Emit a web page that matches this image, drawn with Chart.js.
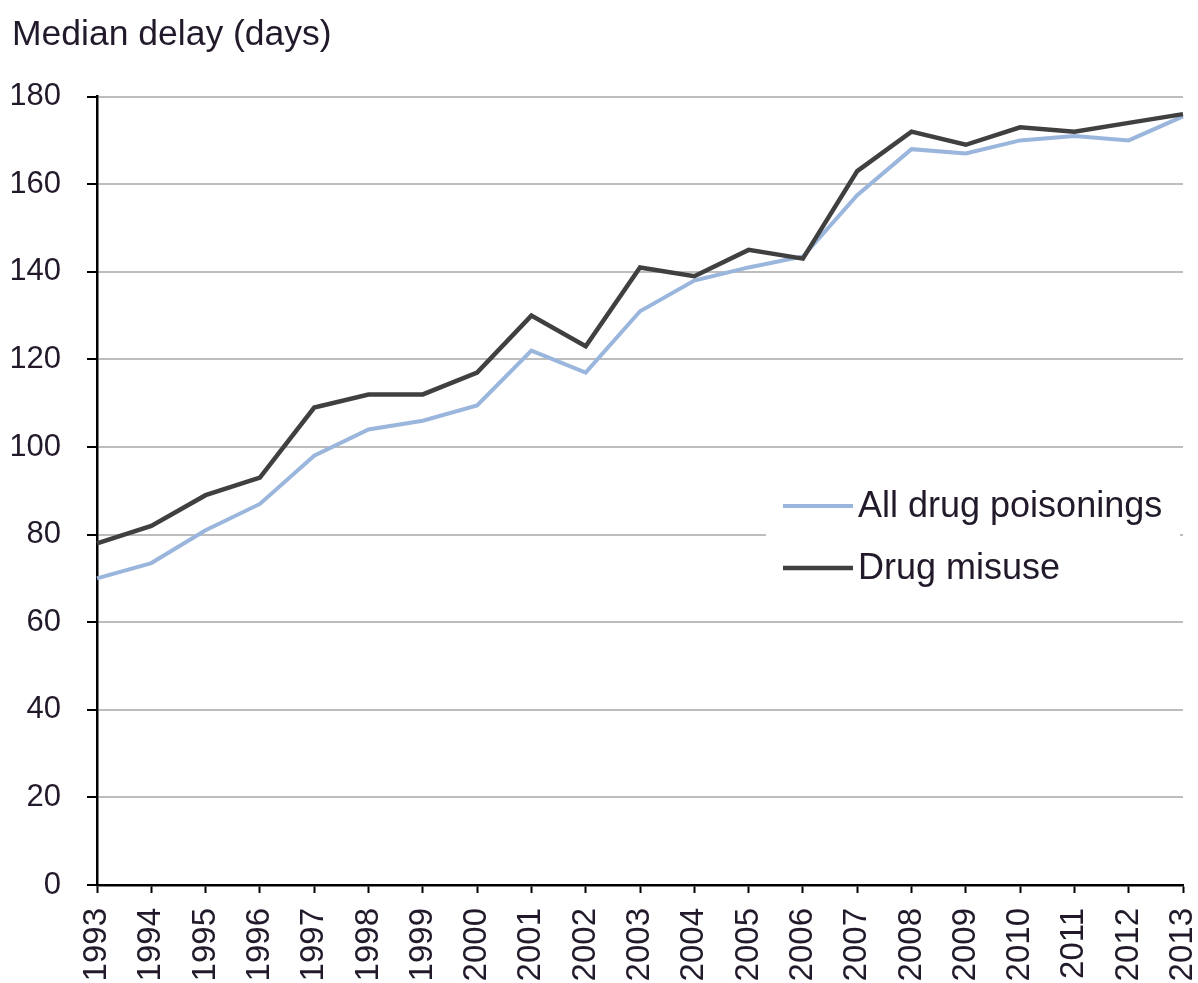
<!DOCTYPE html>
<html>
<head>
<meta charset="utf-8">
<script src="https://cdn.jsdelivr.net/npm/chart.js@4"></script>
<style>
  html, body { margin: 0; padding: 0; background: #fff; }
  #box { width: 1198px; height: 983px; }
</style>
</head>
<body>
<div id="box"><canvas id="grafico"></canvas></div>
<script>
// dati
const anni = ['1993', '1994', '1995', '1996', '1997', '1998', '1999', '2000', '2001', '2002',
              '2003', '2004', '2005', '2006', '2007', '2008', '2009', '2010', '2011', '2012', '2013'];
const tuttiAvvelenamenti = [70, 73.5, 81, 87, 98, 104, 106, 109.5, 122, 117,
                            131, 138, 141, 143.5, 157.5, 168, 167, 170, 171, 170, 175.5];
const abusoDroghe = [78, 82, 89, 93, 109, 112, 112, 117, 130, 123,
                     141, 139, 145, 143, 163, 172, 169, 173, 172, 174, 176];
const tickY = [0, 20, 40, 60, 80, 100, 120, 140, 160, 180];
const titoloAsse = 'Median delay (days)';

const coloreTesto = '#221a2a';
const font = "'Liberation Sans', Arial, sans-serif";

// legenda disegnata dentro l'area del grafico
const legendaInterna = {
    id: 'legendaInterna',
    afterDatasetsDraw(chart) {
        const ctx = chart.ctx;
        ctx.save();
        ctx.fillStyle = '#fff';
        ctx.fillRect(766, 478, 414, 118);
        const righe = [506, 568];
        chart.data.datasets.forEach((ds, i) => {
            const y = righe[i];
            ctx.strokeStyle = ds.borderColor;
            ctx.lineWidth = ds.borderWidth;
            ctx.beginPath();
            ctx.moveTo(783, y);
            ctx.lineTo(853, y);
            ctx.stroke();
            ctx.fillStyle = coloreTesto;
            ctx.font = '36px ' + font;
            ctx.textBaseline = 'middle';
            ctx.textAlign = 'left';
            ctx.fillText(ds.label, 858, y + 1);
        });
        ctx.restore();
    }
};

const ctx = document.getElementById('grafico').getContext('2d');
const grafico = new Chart(ctx, {
    type: 'line',
    data: {
        labels: anni,
        datasets: [{
            label: 'All drug poisonings',
            data: tuttiAvvelenamenti,
            borderColor: '#9bb6dc',
            borderWidth: 4,
            pointRadius: 0,
            fill: false,
            order: 1
        }, {
            label: 'Drug misuse',
            data: abusoDroghe,
            borderColor: '#404040',
            borderWidth: 4.5,
            pointRadius: 0,
            fill: false,
            order: 0
        }]
    },
    options: {
        responsive: true,
        maintainAspectRatio: false,
        animation: false,
        layout: { padding: { left: 12, right: 15, top: 0, bottom: 0 } },
        plugins: {
            legend: { display: false },
            tooltip: { enabled: false },
            title: {
                display: true,
                text: titoloAsse,
                align: 'start',
                color: coloreTesto,
                font: { family: font, size: 35.5, weight: 'normal' },
                padding: { top: 14, bottom: 40 }
            }
        },
        scales: {
            x: {
                offset: false,
                grid: {
                    drawOnChartArea: false,
                    drawTicks: true,
                    tickLength: 8,
                    tickColor: '#000',
                    tickWidth: 2,
                    offset: false
                },
                border: { color: '#000', width: 2.5 },
                ticks: {
                    autoSkip: false,
                    minRotation: 90,
                    maxRotation: 90,
                    padding: 15,
                    color: coloreTesto,
                    font: { family: font, size: 33 }
                },
                afterFit(scale) {
                    scale.height = 98;
                    scale.paddingLeft = 0;
                    scale.paddingRight = 0;
                }
            },
            y: {
                min: 0,
                max: 180,
                afterBuildTicks(scale) {
                    scale.ticks = tickY.map(v => ({ value: v }));
                },
                grid: {
                    color: '#bdbdbd',
                    lineWidth: 2,
                    tickLength: 10,
                    tickColor: '#000',
                    tickWidth: 2
                },
                border: { color: '#000', width: 2.5 },
                ticks: {
                    padding: 26,
                    color: coloreTesto,
                    font: { family: font, size: 31 }
                },
                afterFit(scale) {
                    scale.width = 85;
                }
            }
        }
    },
    plugins: [legendaInterna]
});
</script>
</body>
</html>
